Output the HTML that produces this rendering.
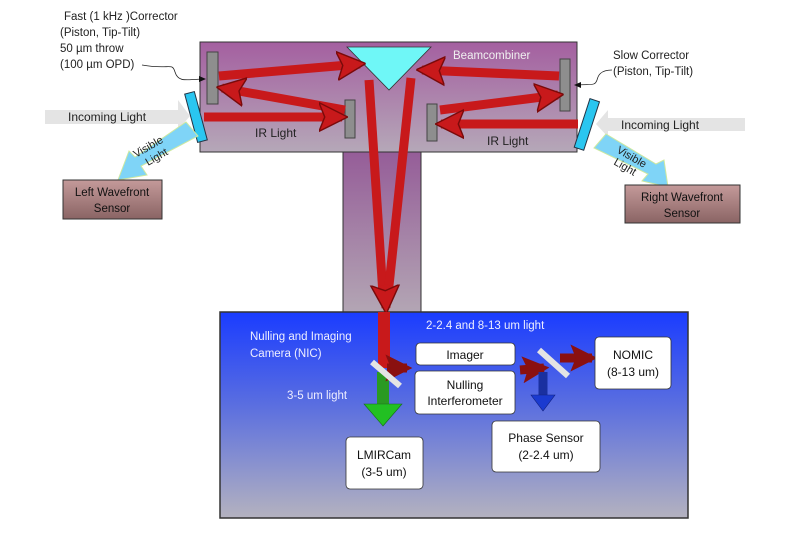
<!DOCTYPE html>
<html><head><style>body{margin:0;background:#fff}svg{display:block}text{font-family:"Liberation Sans",sans-serif}</style></head><body>
<svg width="790" height="545" viewBox="0 0 790 545" xmlns="http://www.w3.org/2000/svg">
<defs>
<linearGradient id="pg" x1="0" y1="0" x2="0" y2="1"><stop offset="0" stop-color="#a45fa0"/><stop offset="1" stop-color="#b5a8b8"/></linearGradient>
<linearGradient id="sg" x1="0" y1="0" x2="0" y2="1"><stop offset="0" stop-color="#955c98"/><stop offset="1" stop-color="#b3a6b4"/></linearGradient>
<linearGradient id="bg" x1="0" y1="0" x2="0" y2="1"><stop offset="0" stop-color="#1a3cff"/><stop offset="0.45" stop-color="#5a6ee0"/><stop offset="1" stop-color="#b4b2bf"/></linearGradient>
<linearGradient id="wg" x1="0" y1="0" x2="0" y2="1"><stop offset="0" stop-color="#c49a9a"/><stop offset="1" stop-color="#8a6464"/></linearGradient>
<marker id="ah" viewBox="0 0 10 10" refX="8" refY="5" markerWidth="3.2" markerHeight="3.4" orient="auto"><path d="M0,0 L10,5 L0,10 L2,5 z" fill="#c8191b" stroke="#7a0a0a" stroke-width="0.5"/></marker>
<marker id="dh" viewBox="0 0 10 10" refX="8" refY="5" markerWidth="3" markerHeight="3" orient="auto"><path d="M0,0 L10,5 L0,10 L2,5 z" fill="#8a1010"/></marker>
</defs>
<rect x="343" y="150" width="78" height="163" fill="url(#sg)" stroke="#333"/>
<rect x="200" y="42" width="377" height="110" fill="url(#pg)" stroke="#333"/>
<rect x="220" y="312" width="468" height="206" fill="url(#bg)" stroke="#333" stroke-width="1.5"/>
<polygon points="347,47 431,47 389,90" fill="#6ff7f7" stroke="#333" stroke-width="0.8"/>
<rect x="207" y="52" width="11" height="52" fill="#8e8e8e" stroke="#444"/>
<rect x="345" y="100" width="10" height="38" fill="#8e8e8e" stroke="#444"/>
<rect x="560" y="59" width="10" height="52" fill="#8e8e8e" stroke="#444"/>
<rect x="427" y="104" width="10" height="37" fill="#8e8e8e" stroke="#444"/>
<g stroke="#c8191b" stroke-width="9" fill="none">
<line x1="219" y1="76" x2="360" y2="64" marker-end="url(#ah)"/>
<line x1="345" y1="110" x2="222" y2="88" marker-end="url(#ah)"/>
<line x1="204" y1="117" x2="342" y2="117" marker-end="url(#ah)"/>
<line x1="559" y1="76" x2="422" y2="70" marker-end="url(#ah)"/>
<line x1="440" y1="110" x2="558" y2="95" marker-end="url(#ah)"/>
<line x1="578" y1="124" x2="441" y2="124" marker-end="url(#ah)"/>
<line x1="369" y1="80" x2="383" y2="295"/>
<line x1="411" y1="78" x2="388" y2="295"/>
<line x1="385" y1="285" x2="386" y2="308" marker-end="url(#ah)"/>
<line x1="384" y1="312" x2="384" y2="368" stroke-width="12"/>
</g>
<rect x="191" y="92" width="10" height="50" fill="#2ac6f0" stroke="#234" transform="rotate(-15 196 117)"/>
<rect x="582" y="99" width="10" height="51" fill="#2ac6f0" stroke="#234" transform="rotate(18 587 124)"/>
<polygon points="45,110 178,110 178,100 190,116 178,130 178,124 45,124" fill="#e4e4e4"/>
<polygon points="745,118 608,118 608,110 596,124 608,137 608,131 745,131" fill="#e4e4e4"/>
<text x="68" y="121" font-size="12" fill="#222">Incoming Light</text>
<text x="621" y="129" font-size="12" fill="#222">Incoming Light</text>
<polygon points="186,122 198,136 141,166 147,175 118,180 129,151 135,157" fill="#7fd4f7" stroke="#cde8a0"/>
<polygon points="606,134 594,148 648,174 642,181 668,187 664,160 656,164" fill="#7fd4f7" stroke="#cde8a0"/>
<text transform="translate(136,158) rotate(-30)" font-size="11" fill="#222">Visible</text>
<text transform="translate(148,166) rotate(-30)" font-size="11" fill="#222">Light</text>
<text transform="translate(616,152) rotate(30)" font-size="11" fill="#222">Visible</text>
<text transform="translate(613,164) rotate(30)" font-size="11" fill="#222">Light</text>
<rect x="63" y="180" width="99" height="39" fill="url(#wg)" stroke="#333"/>
<text x="112" y="196" font-size="11.5" text-anchor="middle" fill="#111">Left Wavefront</text>
<text x="112" y="212" font-size="11.5" text-anchor="middle" fill="#111">Sensor</text>
<rect x="625" y="185" width="115" height="38" fill="url(#wg)" stroke="#333"/>
<text x="682" y="201" font-size="11.5" text-anchor="middle" fill="#111">Right Wavefront</text>
<text x="682" y="217" font-size="11.5" text-anchor="middle" fill="#111">Sensor</text>
<text x="453" y="59" font-size="11.5" fill="#f0f0f0">Beamcombiner</text>
<text x="255" y="137" font-size="12" fill="#222">IR Light</text>
<text x="487" y="145" font-size="12" fill="#222">IR Light</text>
<g font-size="11.5" fill="#222">
<text x="64" y="20">Fast (1 kHz )Corrector</text>
<text x="60" y="36">(Piston, Tip-Tilt)</text>
<text x="60" y="52">50 µm throw</text>
<text x="60" y="68">(100 µm OPD)</text>
<text x="613" y="59">Slow Corrector</text>
<text x="613" y="75">(Piston, Tip-Tilt)</text>
</g>
<path d="M142,65 C170,70 172,62 175,72 C178,82 185,80 203,79" stroke="#222" fill="none" stroke-width="0.8"/>
<polygon points="206,79 199,76 199,82" fill="#111"/>
<path d="M612,70 C600,70 598,76 597,80 C595,86 592,84 578,85" stroke="#222" fill="none" stroke-width="0.8"/>
<polygon points="574,85 581,82 581,88" fill="#111"/>
<g font-size="11.5" fill="#eef">
<text x="250" y="340">Nulling and Imaging</text>
<text x="250" y="357">Camera (NIC)</text>
<text x="426" y="329">2-2.4 and 8-13 um light</text>
<text x="287" y="399">3-5 um light</text>
</g>
<g stroke="#2a9a22" stroke-width="12"><line x1="383" y1="372" x2="383" y2="405"/></g>
<polygon points="364,404 402,404 383,426" fill="#22c022" stroke="#1a6a1a" stroke-width="0.6"/>
<line x1="387" y1="368" x2="407" y2="368" stroke="#8a1010" stroke-width="9" marker-end="url(#dh)"/>
<line x1="520" y1="370" x2="544" y2="368" stroke="#8a1010" stroke-width="9" marker-end="url(#dh)"/>
<line x1="560" y1="358" x2="592" y2="358" stroke="#8a1010" stroke-width="9" marker-end="url(#dh)"/>
<line x1="543" y1="372" x2="543" y2="396" stroke="#1a30a0" stroke-width="9"/>
<polygon points="531,395 555,395 543,411" fill="#1a3ad0" stroke="#102080" stroke-width="0.6"/>
<line x1="372" y1="362" x2="400" y2="386" stroke="#e4e4e4" stroke-width="6"/>
<line x1="539" y1="350" x2="568" y2="376" stroke="#e4e4e4" stroke-width="6"/>
<g fill="#fff" stroke="#333" stroke-width="0.8">
<rect x="416" y="343" width="99" height="22" rx="4"/>
<rect x="415" y="371" width="100" height="43" rx="4"/>
<rect x="595" y="337" width="76" height="52" rx="4"/>
<rect x="492" y="421" width="108" height="51" rx="4"/>
<rect x="346" y="437" width="77" height="52" rx="4"/>
</g>
<g font-size="12" fill="#111" text-anchor="middle">
<text x="465" y="359">Imager</text>
<text x="465" y="389">Nulling</text>
<text x="465" y="405">Interferometer</text>
<text x="633" y="359">NOMIC</text>
<text x="633" y="376">(8-13 um)</text>
<text x="546" y="442">Phase Sensor</text>
<text x="546" y="459">(2-2.4 um)</text>
<text x="384" y="459">LMIRCam</text>
<text x="384" y="476">(3-5 um)</text>
</g>
</svg>
</body></html>
